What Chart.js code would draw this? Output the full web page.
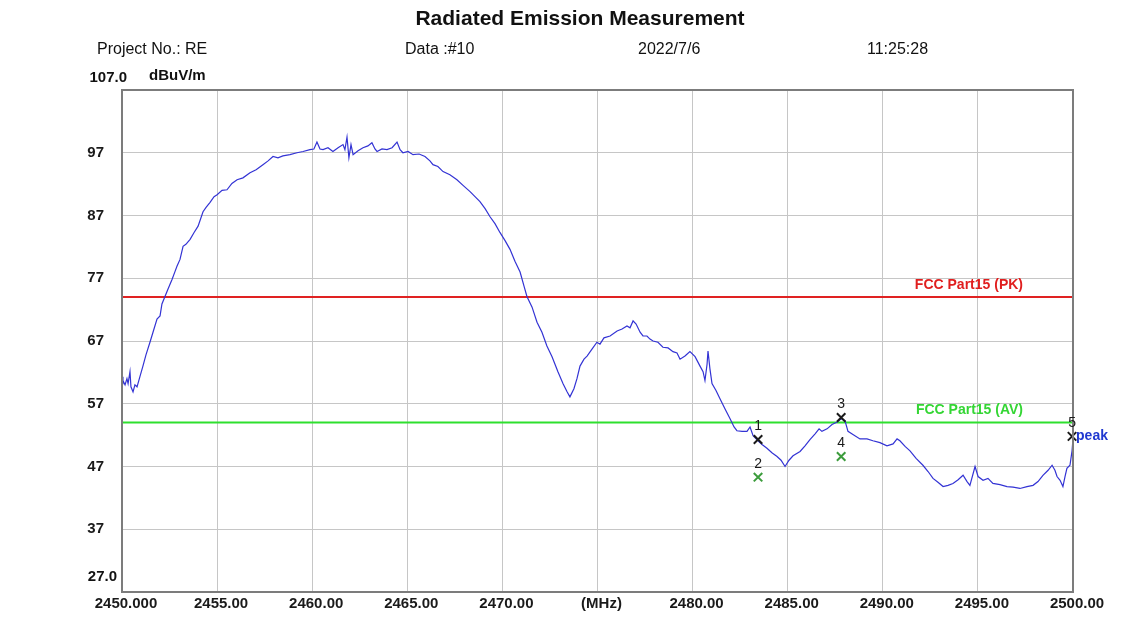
<!DOCTYPE html>
<html>
<head>
<meta charset="utf-8">
<script src="https://cdn.jsdelivr.net/npm/chart.js@4.4.1/dist/chart.umd.min.js"></script>
<style>
  html, body { margin: 0; padding: 0; background: #fff; }
</style>
</head>
<body>
<canvas id="reChart" width="1144" height="619"></canvas>
<script>
/* ── Data ───────────────────────────────────────────── */
const freqMHz = [
  2450.00, 2450.05, 2450.16, 2450.26, 2450.32, 2450.42, 2450.47, 2450.58, 2450.68, 2450.79,
  2450.95, 2451.10, 2451.26, 2451.47, 2451.63, 2451.84, 2452.00, 2452.10, 2452.26, 2452.42,
  2452.63, 2452.79, 2452.89, 2453.05, 2453.21, 2453.36, 2453.58, 2453.79, 2454.00, 2454.26,
  2454.42, 2454.63, 2454.84, 2455.00, 2455.26, 2455.52, 2455.78, 2456.05, 2456.36, 2456.73,
  2457.05, 2457.41, 2457.68, 2457.94, 2458.20, 2458.46, 2458.83, 2459.20, 2459.52, 2459.88,
  2460.09, 2460.25, 2460.41, 2460.57, 2460.83, 2461.09, 2461.36, 2461.62, 2461.72, 2461.83,
  2461.93, 2462.04, 2462.15, 2462.41, 2462.67, 2462.93, 2463.14, 2463.30, 2463.41, 2463.67,
  2463.93, 2464.20, 2464.46, 2464.62, 2464.77, 2465.04, 2465.30, 2465.62, 2465.93, 2466.19,
  2466.35, 2466.61, 2466.88, 2467.24, 2467.61, 2467.93, 2468.30, 2468.56, 2468.82, 2469.09,
  2469.35, 2469.61, 2469.87, 2470.14, 2470.40, 2470.66, 2470.93, 2471.14, 2471.29, 2471.56,
  2471.82, 2472.08, 2472.34, 2472.61, 2472.92, 2473.19, 2473.40, 2473.55, 2473.76, 2473.92,
  2474.08, 2474.29, 2474.45, 2474.71, 2474.97, 2475.13, 2475.34, 2475.66, 2476.03, 2476.29,
  2476.55, 2476.71, 2476.87, 2477.03, 2477.24, 2477.39, 2477.60, 2477.76, 2477.92, 2478.18,
  2478.44, 2478.71, 2478.97, 2479.18, 2479.34, 2479.60, 2479.86, 2480.13, 2480.39, 2480.55,
  2480.65, 2480.76, 2480.81, 2480.91, 2481.02, 2481.23, 2481.44, 2481.70, 2481.97, 2482.18,
  2482.33, 2482.60, 2482.86, 2483.02, 2483.18, 2483.44, 2483.65, 2483.91, 2484.17, 2484.44,
  2484.65, 2484.86, 2485.07, 2485.28, 2485.65, 2485.91, 2486.17, 2486.44, 2486.65, 2486.80,
  2487.07, 2487.33, 2487.60, 2487.81, 2488.01, 2488.17, 2488.43, 2488.80, 2489.17, 2489.48,
  2489.85, 2490.22, 2490.54, 2490.75, 2490.90, 2491.17, 2491.43, 2491.75, 2492.11, 2492.38,
  2492.64, 2492.90, 2493.17, 2493.43, 2493.69, 2493.96, 2494.22, 2494.43, 2494.58, 2494.85,
  2495.01, 2495.27, 2495.53, 2495.79, 2496.16, 2496.53, 2496.85, 2497.21, 2497.58, 2497.90,
  2498.16, 2498.42, 2498.69, 2498.90, 2499.05, 2499.16, 2499.32, 2499.47, 2499.58, 2499.68,
  2499.84, 2499.95, 2500.00
];
const levelDb = [
  61.3, 60.7, 60.0, 61.0, 60.2, 62.1, 59.7, 58.9, 60.0, 59.7,
  61.4, 63.0, 64.8, 66.8, 68.4, 70.5, 71.0, 72.9, 74.1, 75.3,
  76.8, 78.1, 78.9, 80.0, 82.1, 82.4, 83.2, 84.3, 85.3, 87.6,
  88.3, 89.1, 90.0, 90.3, 91.0, 91.1, 92.1, 92.7, 93.0, 93.8,
  94.3, 95.1, 95.7, 96.4, 96.2, 96.5, 96.7, 97.0, 97.2, 97.5,
  97.6, 98.7, 97.6, 97.5, 97.8, 97.2, 97.8, 98.3, 97.5, 99.5,
  96.2, 98.3, 96.7, 97.3, 97.8, 98.1, 98.6, 97.6, 97.2, 97.6,
  97.5, 97.8, 98.7, 97.5, 97.0, 97.2, 96.7, 96.8, 96.4, 95.7,
  95.1, 94.8, 94.0, 93.5, 92.7, 91.8, 90.8, 90.0, 89.2, 88.1,
  86.8, 85.7, 84.3, 83.0, 81.6, 79.7, 78.0, 75.7, 74.1, 72.4,
  70.0, 68.4, 66.2, 64.5, 62.1, 60.2, 58.9, 58.1, 59.4, 61.0,
  63.0, 64.1, 64.6, 65.7, 66.8, 66.5, 67.5, 67.8, 68.6, 68.9,
  69.4, 69.1, 70.2, 69.7, 68.4, 67.8, 67.8, 67.3, 67.0, 66.8,
  66.0, 65.9, 65.3, 65.1, 64.1, 64.6, 65.3, 64.5, 63.0, 62.1,
  60.7, 63.3, 65.4, 62.6, 60.2, 59.1, 57.8, 56.2, 54.6, 53.3,
  52.7, 52.6, 52.6, 53.3, 51.9, 51.1, 50.5, 49.9, 49.2, 48.6,
  48.0, 47.0, 48.0, 48.7, 49.4, 50.3, 51.3, 52.2, 53.0, 52.6,
  53.0, 53.7, 54.1, 54.6, 54.3, 52.6, 52.1, 51.4, 51.4, 51.1,
  50.8, 50.3, 50.6, 51.4, 51.1, 50.2, 49.5, 48.3, 47.2, 46.2,
  45.1, 44.5, 43.8, 44.0, 44.3, 44.9, 45.6, 44.6, 44.0, 47.0,
  45.4, 44.8, 45.1, 44.3, 44.1, 43.8, 43.7, 43.5, 43.8, 44.0,
  44.6, 45.6, 46.4, 47.2, 46.4, 45.4, 44.8, 43.8, 45.4, 46.7,
  47.2, 49.5, 51.4
];

const limitPK = 74;   // FCC Part15 (PK)
const limitAV = 54;   // FCC Part15 (AV)

const markerFreq  = [2483.44, 2483.44, 2487.81, 2487.81, 2499.95];
const markerLevel = [51.3, 45.3, 54.8, 48.6, 51.8];
const markerType  = ['pk', 'av', 'pk', 'av', 'pk'];

const xTicks      = [2450, 2455, 2460, 2465, 2470, 2475, 2480, 2485, 2490, 2495, 2500];
const xTickLabels = ['2450.000', '2455.00', '2460.00', '2465.00', '2470.00', '(MHz)',
                     '2480.00', '2485.00', '2490.00', '2495.00', '2500.00'];
const yTicks      = [27, 37, 47, 57, 67, 77, 87, 97, 107];
const yTickLabels = ['27.0', '37', '47', '57', '67', '77', '87', '97', '107.0'];

/* ── Helpers ────────────────────────────────────────── */
const FONT = '"Liberation Sans", Arial, sans-serif';
const pts  = (xs, ys) => xs.map((v, i) => ({ x: v, y: ys[i] }));
const pick = (arr, type) => arr.filter((_, i) => markerType[i] === type);

/* ── Extra drawing: frame, header, limit names, marker numbers ── */
const decor = {
  id: 'decor',
  afterDraw(chart) {
    const { ctx, chartArea: a, scales: { x, y } } = chart;
    ctx.save();

    // plot frame
    ctx.strokeStyle = '#7c7c7c';
    ctx.lineWidth = 2;
    ctx.strokeRect(a.left, a.top, a.right - a.left, a.bottom - a.top);

    // header
    ctx.fillStyle = '#111';
    ctx.textBaseline = 'middle';
    ctx.textAlign = 'center';
    ctx.font = 'bold 21px ' + FONT;
    ctx.fillText('Radiated Emission Measurement', 580, 19);

    ctx.textAlign = 'left';
    ctx.font = '16px ' + FONT;
    ctx.fillText('Project No.: RE', 97, 50);
    ctx.fillText('Data :#10', 405, 50);
    ctx.fillText('2022/7/6', 638, 50);
    ctx.fillText('11:25:28', 867, 50);

    // unit + end labels of y axis
    ctx.font = 'bold 15px ' + FONT;
    ctx.fillText('dBuV/m', 149, 76);
    ctx.textAlign = 'right';
    ctx.fillText(yTickLabels[yTickLabels.length - 1], 127, y.getPixelForValue(107) - 12);
    ctx.fillText(yTickLabels[0], 117, y.getPixelForValue(27) - 15);

    // limit line names
    ctx.font = 'bold 14px ' + FONT;
    ctx.fillStyle = '#e01e1e';
    ctx.fillText('FCC Part15 (PK)', 1023, y.getPixelForValue(limitPK) - 12);
    ctx.fillStyle = '#34d634';
    ctx.fillText('FCC Part15 (AV)', 1023, y.getPixelForValue(limitAV) - 12);

    // marker numbers
    ctx.textAlign = 'center';
    ctx.font = '14px ' + FONT;
    ctx.fillStyle = '#1a1a1a';
    markerFreq.forEach((f, i) => {
      ctx.fillText(String(i + 1), x.getPixelForValue(f), y.getPixelForValue(markerLevel[i]) - 13);
    });

    // "peak" tag beside the last marker
    const last = markerFreq.length - 1;
    ctx.textAlign = 'left';
    ctx.font = 'bold 14px ' + FONT;
    ctx.fillStyle = '#2038d0';
    ctx.fillText('peak', x.getPixelForValue(markerFreq[last]) + 4, y.getPixelForValue(markerLevel[last]));

    ctx.restore();
  }
};

/* ── Chart ──────────────────────────────────────────── */
new Chart(document.getElementById('reChart'), {
  type: 'scatter',
  data: {
    datasets: [
      {
        label: 'Peak marker',
        data: pts(pick(markerFreq, 'pk'), pick(markerLevel, 'pk')),
        pointStyle: 'crossRot',
        pointRadius: 6,
        borderColor: '#1a1a1a',
        backgroundColor: '#1a1a1a',
        borderWidth: 2,
        clip: false
      },
      {
        label: 'AV marker',
        data: pts(pick(markerFreq, 'av'), pick(markerLevel, 'av')),
        pointStyle: 'crossRot',
        pointRadius: 6,
        borderColor: '#3c9c3c',
        backgroundColor: '#3c9c3c',
        borderWidth: 2,
        clip: false
      },
      {
        label: 'Trace',
        data: pts(freqMHz, levelDb),
        showLine: true,
        borderColor: '#3333d4',
        borderWidth: 1.2,
        pointRadius: 0,
        tension: 0
      },
      {
        label: 'FCC Part15 (PK)',
        data: pts([2450, 2500], [limitPK, limitPK]),
        showLine: true,
        borderColor: '#e02222',
        borderWidth: 2,
        pointRadius: 0
      },
      {
        label: 'FCC Part15 (AV)',
        data: pts([2450, 2500], [limitAV, limitAV]),
        showLine: true,
        borderColor: '#2ee02e',
        borderWidth: 2,
        pointRadius: 0
      }
    ]
  },
  options: {
    responsive: false,
    animation: false,
    devicePixelRatio: 1,
    layout: { padding: { left: 0, right: 71, top: 90, bottom: 0 } },
    plugins: {
      legend: { display: false },
      tooltip: { enabled: false }
    },
    scales: {
      x: {
        type: 'linear',
        min: 2450,
        max: 2500,
        afterBuildTicks: s => { s.ticks = xTicks.map(v => ({ value: v })); },
        afterFit: s => { s.height = 25; },
        grid: { color: '#c6c6c6', lineWidth: 1, drawTicks: false },
        border: { display: false },
        ticks: {
          autoSkip: false,
          maxRotation: 0,
          padding: 3,
          labelOffset: 4,
          color: '#1a1a1a',
          font: { family: FONT, size: 15, weight: 'bold' },
          callback: (v, i) => xTickLabels[i]
        }
      },
      y: {
        min: 27,
        max: 107,
        afterBuildTicks: s => { s.ticks = yTicks.map(v => ({ value: v })); },
        afterFit: s => { s.width = 122; },
        grid: { color: '#c6c6c6', lineWidth: 1, drawTicks: false },
        border: { display: false },
        ticks: {
          padding: 18,
          color: '#1a1a1a',
          font: { family: FONT, size: 15, weight: 'bold' },
          callback: (v, i) => (i === 0 || i === yTicks.length - 1) ? '' : yTickLabels[i]
        }
      }
    }
  },
  plugins: [decor]
});
</script>
</body>
</html>
